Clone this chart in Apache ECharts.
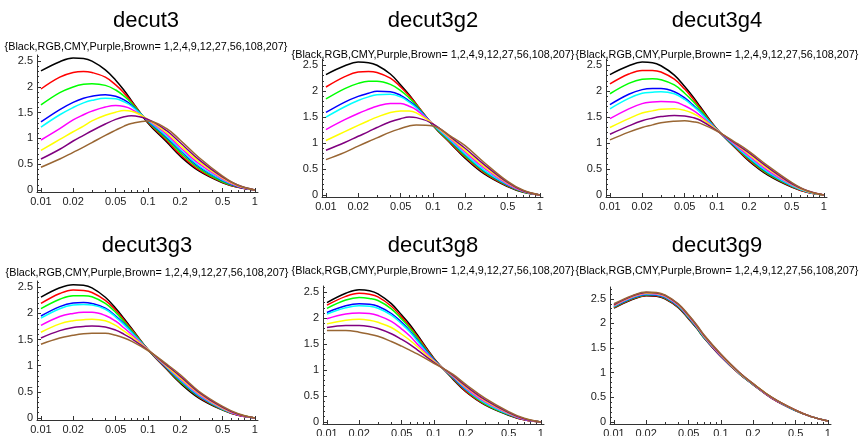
<!DOCTYPE html>
<html><head><meta charset="utf-8">
<script src="https://cdn.jsdelivr.net/npm/echarts@6/dist/echarts.min.js"></script>
<style>html,body{margin:0;padding:0;background:#fff}#c{width:860px;height:436px}</style>
</head><body><div id="c"></div>
<script>
// ---------- data ----------
const xs = [0.01,0.015,0.02,0.025,0.03,0.04,0.05,0.06,0.07,0.1,0.15,0.2,0.3,0.5,0.7,1];
const curveNames = ['Black','Red','Green','Blue','Cyan','Magenta','Yellow','Purple','Brown'];
const curveColors = ['#000000','#ff0000','#00ff00','#0000ff','#00ffff','#ff00ff','#ffff00','#800080','#996633'];
const panelTitles = ['decut3','decut3g2','decut3g4','decut3g3','decut3g8','decut3g9'];
const subtitleText = '{Black,RGB,CMY,Purple,Brown= 1,2,4,9,12,27,56,108,207}';
const xTickLabels = [0.01,0.02,0.05,0.1,0.2,0.5,1];
const xMinorTicks = [0.03,0.04,0.06,0.07,0.08,0.09,0.3,0.4,0.6,0.7,0.8,0.9];
const yTickLabels = [0,0.5,1,1.5,2,2.5];
const yMinorTicks = [0.1,0.2,0.3,0.4,0.6,0.7,0.8,0.9,1.1,1.2,1.3,1.4,1.6,1.7,1.8,1.9,2.1,2.2,2.3,2.4,2.6,2.7];

const decut3 = [
 [2.31,2.49,2.56,2.55,2.50,2.33,2.13,1.93,1.74,1.30,0.93,0.66,0.37,0.14,0.05,0.0],
 [1.96,2.19,2.28,2.30,2.28,2.19,2.04,1.88,1.72,1.32,0.96,0.69,0.39,0.15,0.05,0.0],
 [1.65,1.89,2.00,2.05,2.06,2.03,1.94,1.82,1.69,1.33,0.99,0.73,0.42,0.16,0.06,0.0],
 [1.32,1.56,1.70,1.78,1.82,1.85,1.82,1.75,1.65,1.34,1.02,0.77,0.45,0.18,0.06,0.0],
 [1.22,1.46,1.60,1.69,1.74,1.78,1.77,1.71,1.63,1.35,1.04,0.79,0.47,0.19,0.07,0.0],
 [0.97,1.19,1.36,1.46,1.53,1.61,1.64,1.62,1.57,1.36,1.08,0.83,0.51,0.21,0.07,0.0],
 [0.77,0.98,1.13,1.24,1.34,1.45,1.51,1.54,1.53,1.37,1.11,0.87,0.55,0.23,0.08,0.0],
 [0.60,0.79,0.95,1.06,1.15,1.28,1.37,1.42,1.44,1.37,1.15,0.92,0.59,0.25,0.09,0.0],
 [0.44,0.60,0.73,0.83,0.92,1.06,1.16,1.24,1.29,1.34,1.19,0.97,0.63,0.27,0.09,0.0]
];
const decut3g2 = [
 [2.32,2.49,2.56,2.55,2.50,2.33,2.12,1.93,1.75,1.34,0.97,0.71,0.41,0.16,0.05,0.0],
 [2.08,2.28,2.37,2.38,2.36,2.25,2.08,1.91,1.75,1.35,0.98,0.73,0.43,0.17,0.06,0.0],
 [1.85,2.05,2.15,2.19,2.19,2.13,2.01,1.87,1.73,1.35,1.00,0.75,0.45,0.18,0.06,0.0],
 [1.59,1.79,1.90,1.96,2.00,1.99,1.92,1.81,1.70,1.36,1.02,0.78,0.47,0.19,0.07,0.0],
 [1.50,1.70,1.82,1.89,1.93,1.94,1.89,1.79,1.68,1.36,1.03,0.79,0.48,0.20,0.07,0.0],
 [1.26,1.45,1.57,1.65,1.71,1.76,1.76,1.71,1.64,1.37,1.06,0.83,0.52,0.21,0.07,0.0],
 [1.05,1.22,1.34,1.43,1.50,1.59,1.62,1.62,1.58,1.37,1.08,0.86,0.55,0.23,0.08,0.0],
 [0.86,1.01,1.13,1.22,1.30,1.41,1.47,1.50,1.49,1.37,1.10,0.90,0.59,0.24,0.08,0.0],
 [0.68,0.82,0.94,1.03,1.10,1.21,1.28,1.33,1.35,1.33,1.12,0.95,0.63,0.26,0.09,0.0]
];
const decut3g4 = [
 [2.32,2.49,2.56,2.55,2.49,2.31,2.09,1.89,1.70,1.27,0.90,0.65,0.38,0.15,0.05,0.0],
 [2.14,2.33,2.40,2.40,2.37,2.23,2.04,1.85,1.67,1.27,0.91,0.67,0.40,0.16,0.05,0.0],
 [1.95,2.15,2.23,2.24,2.22,2.12,1.96,1.80,1.64,1.26,0.92,0.69,0.41,0.17,0.06,0.0],
 [1.74,1.94,2.03,2.05,2.05,1.99,1.87,1.73,1.60,1.26,0.93,0.71,0.43,0.18,0.06,0.0],
 [1.66,1.86,1.96,1.98,1.99,1.95,1.84,1.71,1.59,1.26,0.94,0.72,0.44,0.18,0.06,0.0],
 [1.47,1.66,1.76,1.79,1.80,1.79,1.72,1.63,1.53,1.25,0.96,0.75,0.47,0.20,0.07,0.0],
 [1.30,1.47,1.58,1.62,1.65,1.66,1.63,1.57,1.49,1.25,0.98,0.78,0.50,0.21,0.07,0.0],
 [1.17,1.33,1.43,1.48,1.51,1.53,1.52,1.49,1.44,1.24,0.99,0.81,0.53,0.22,0.08,0.0],
 [1.06,1.21,1.30,1.35,1.39,1.42,1.43,1.41,1.38,1.23,1.01,0.84,0.56,0.24,0.08,0.0]
];
const decut3g3 = [
 [2.31,2.49,2.55,2.54,2.49,2.31,2.10,1.90,1.72,1.31,0.93,0.67,0.38,0.15,0.05,0.0],
 [2.19,2.38,2.45,2.44,2.40,2.25,2.06,1.87,1.70,1.31,0.94,0.69,0.40,0.16,0.05,0.0],
 [2.09,2.27,2.34,2.34,2.32,2.19,2.02,1.84,1.68,1.31,0.95,0.70,0.41,0.16,0.06,0.0],
 [1.95,2.13,2.20,2.21,2.19,2.10,1.95,1.80,1.65,1.31,0.96,0.72,0.42,0.17,0.06,0.0],
 [1.91,2.09,2.16,2.17,2.16,2.08,1.93,1.78,1.64,1.31,0.97,0.73,0.43,0.17,0.06,0.0],
 [1.77,1.94,2.00,2.02,2.02,1.96,1.85,1.72,1.60,1.31,0.98,0.75,0.45,0.18,0.06,0.0],
 [1.64,1.80,1.86,1.88,1.89,1.86,1.77,1.66,1.56,1.31,0.99,0.77,0.47,0.19,0.07,0.0],
 [1.53,1.67,1.73,1.75,1.76,1.74,1.68,1.60,1.52,1.30,1.01,0.80,0.49,0.20,0.07,0.0],
 [1.41,1.53,1.58,1.61,1.62,1.62,1.58,1.53,1.47,1.29,1.03,0.83,0.51,0.22,0.08,0.0]
];
const decut3g8 = [
 [2.30,2.48,2.55,2.53,2.47,2.28,2.06,1.87,1.68,1.23,0.83,0.58,0.33,0.13,0.04,0.0],
 [2.25,2.42,2.48,2.46,2.41,2.23,2.02,1.83,1.65,1.22,0.84,0.59,0.34,0.14,0.04,0.0],
 [2.19,2.35,2.40,2.38,2.34,2.18,1.98,1.80,1.62,1.21,0.85,0.61,0.35,0.14,0.05,0.0],
 [2.11,2.24,2.28,2.27,2.23,2.09,1.92,1.75,1.58,1.20,0.86,0.62,0.37,0.15,0.05,0.0],
 [2.08,2.20,2.24,2.23,2.19,2.06,1.89,1.73,1.56,1.19,0.87,0.63,0.37,0.15,0.05,0.0],
 [1.99,2.08,2.10,2.09,2.05,1.94,1.79,1.65,1.50,1.18,0.88,0.65,0.39,0.16,0.05,0.0],
 [1.89,1.96,1.98,1.96,1.92,1.82,1.69,1.57,1.45,1.17,0.89,0.67,0.41,0.17,0.06,0.0],
 [1.82,1.86,1.86,1.84,1.80,1.70,1.59,1.49,1.39,1.15,0.90,0.69,0.43,0.18,0.06,0.0],
 [1.76,1.76,1.73,1.69,1.65,1.55,1.46,1.38,1.31,1.13,0.92,0.72,0.46,0.20,0.07,0.0]
];
const decut3g9 = [
 [2.31,2.49,2.56,2.55,2.50,2.32,2.09,1.89,1.70,1.33,0.97,0.76,0.48,0.23,0.11,0.02],
 [2.32,2.50,2.57,2.56,2.51,2.33,2.10,1.90,1.71,1.33,0.97,0.76,0.48,0.23,0.11,0.02],
 [2.33,2.51,2.58,2.57,2.52,2.34,2.11,1.90,1.71,1.34,0.98,0.76,0.49,0.23,0.11,0.02],
 [2.34,2.52,2.59,2.58,2.53,2.35,2.12,1.91,1.72,1.34,0.98,0.77,0.49,0.23,0.11,0.02],
 [2.35,2.53,2.60,2.59,2.54,2.36,2.13,1.92,1.72,1.35,0.98,0.77,0.49,0.23,0.11,0.02],
 [2.36,2.54,2.61,2.60,2.55,2.37,2.14,1.93,1.73,1.35,0.99,0.77,0.49,0.24,0.11,0.02],
 [2.37,2.55,2.62,2.61,2.56,2.38,2.15,1.94,1.74,1.36,0.99,0.78,0.50,0.24,0.11,0.02],
 [2.38,2.56,2.63,2.62,2.57,2.39,2.16,1.95,1.75,1.37,1.00,0.78,0.50,0.24,0.11,0.02],
 [2.40,2.57,2.64,2.63,2.58,2.40,2.17,1.96,1.76,1.38,1.00,0.78,0.50,0.24,0.11,0.02]
];
const panelData = [decut3, decut3g2, decut3g4, decut3g3, decut3g8, decut3g9];

// ---------- layout ----------
const layouts = [
 {left:37,  top:55,  w:221, h:137, ymax:2.62, tx:146, ty:10,  sy:42},
 {left:322, top:59,  w:221, h:138, ymax:2.62, tx:433, ty:10,  sy:50},
 {left:606, top:59,  w:221, h:138, ymax:2.62, tx:717, ty:10,  sy:50},
 {left:37,  top:281, w:221, h:139, ymax:2.62, tx:147, ty:235, sy:268},
 {left:323, top:286, w:221, h:138, ymax:2.62, tx:433, ty:235, sy:266},
 {left:610, top:287, w:221, h:137, ymax:2.74, tx:717, ty:235, sy:266}
];
const XMIN = -2.037, XMAX = 0.03, YMIN = -0.04;
const FONT = '"Liberation Sans", Arial, sans-serif';

const grids = [], xAxes = [], yAxes = [], series = [], titles = [];
const lg = v => Math.log10(v);
const xLabelFmt = v => { const t = xTickLabels.find(t => Math.abs(lg(t) - v) < 1e-6); return t === undefined ? '' : String(t); };

layouts.forEach((L, i) => {
  grids.push({left: L.left, top: L.top, width: L.w, height: L.h, containLabel: false, outerBoundsMode: 'none'});
  xAxes.push({type:'value', gridIndex:i, min:XMIN, max:XMAX, position:'bottom',
    axisLine:{show:true, onZero:false, lineStyle:{color:'#333', width:1}},
    axisTick:{show:true, inside:true, length:4, customValues: xTickLabels.map(lg), lineStyle:{color:'#333'}},
    axisLabel:{show:true, customValues: xTickLabels.map(lg), formatter: xLabelFmt, margin:4, fontSize:11, color:'#222', fontFamily: FONT},
    splitLine:{show:false}});
  xAxes.push({type:'value', gridIndex:i, min:XMIN, max:XMAX, position:'bottom',
    axisLine:{show:false, onZero:false},
    axisTick:{show:true, inside:true, length:2, customValues: xMinorTicks.map(lg), lineStyle:{color:'#333'}},
    axisLabel:{show:false}, splitLine:{show:false}});
  yAxes.push({type:'value', gridIndex:i, min:YMIN, max:L.ymax, position:'left',
    axisLine:{show:true, onZero:false, lineStyle:{color:'#333', width:1}},
    axisTick:{show:true, inside:true, length:4, customValues: yTickLabels, lineStyle:{color:'#333'}},
    axisLabel:{show:true, customValues: yTickLabels, formatter: v => String(v), margin:4, fontSize:11, color:'#222', fontFamily: FONT},
    splitLine:{show:false}});
  yAxes.push({type:'value', gridIndex:i, min:YMIN, max:L.ymax, position:'left',
    axisLine:{show:false, onZero:false},
    axisTick:{show:true, inside:true, length:2, customValues: yMinorTicks.filter(v => v < L.ymax), lineStyle:{color:'#333'}},
    axisLabel:{show:false}, splitLine:{show:false}});

  titles.push({text: panelTitles[i], left: L.tx, top: L.ty, textAlign:'center', padding:0,
    textStyle:{fontSize:22, fontWeight:'normal', color:'#000', fontFamily: FONT}});
  titles.push({text: subtitleText, left: L.tx, top: L.sy, textAlign:'center', padding:0,
    textStyle:{fontSize:10.8, fontWeight:'normal', color:'#000', fontFamily: FONT}});

  panelData[i].forEach((ys, k) => {
    series.push({type:'line', name: panelTitles[i] + ' ' + curveNames[k], xAxisIndex: 2*i, yAxisIndex: 2*i,
      data: xs.map((x, j) => [lg(x), ys[j]]), smooth: 0.4, showSymbol:false, symbol:'none',
      lineStyle:{color: curveColors[k], width:1.5}, itemStyle:{color: curveColors[k]}, silent:true, clip:false});
  });
});

const chart = echarts.init(document.getElementById('c'), null, {renderer:'canvas'});
chart.setOption({animation:false, backgroundColor:'#fff', title: titles, grid: grids, xAxis: xAxes, yAxis: yAxes, series: series});
</script></body></html>
